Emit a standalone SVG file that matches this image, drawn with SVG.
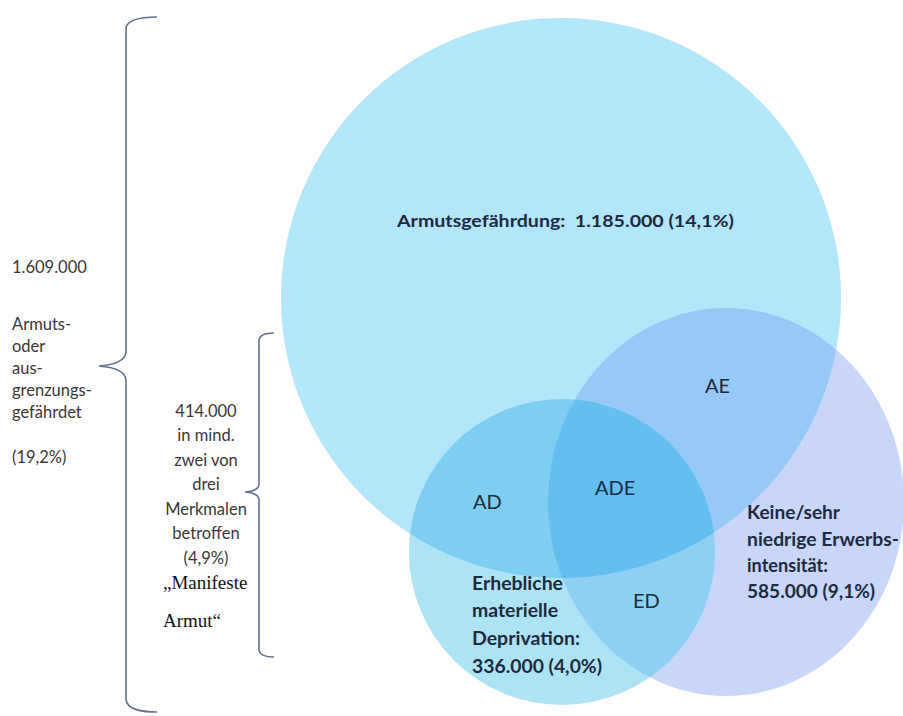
<svg xmlns="http://www.w3.org/2000/svg" width="903" height="716" viewBox="0 0 903 716">
<style>
.lbl{font-family:Lato,"Liberation Sans",sans-serif;fill:#1c2b3f}
.b{font-weight:bold}
.side{font-family:Lato,"Liberation Sans",sans-serif;font-size:16.5px;fill:#383838}
.serif{font-family:"Liberation Serif",serif;font-size:19px;fill:#111}
.brace{fill:none;stroke:#62708c;stroke-width:1.6}
</style>
<defs>
<circle id="cA" cx="561" cy="298" r="280"/>
<ellipse id="cE" cx="726" cy="502" rx="178" ry="194"/>
<circle id="cD" cx="562" cy="552" r="153"/>
<clipPath id="clipA"><use href="#cA"/></clipPath>
<clipPath id="clipE"><use href="#cE"/></clipPath>
</defs>
<rect width="903" height="716" fill="#ffffff"/>
<g id="venn">
<g id="setA"><use href="#cA" fill="#b3e5fb"/></g>
<g id="setE"><use href="#cE" fill="#c8d6f9"/></g>
<g id="setD"><use href="#cD" fill="#aee3f6"/></g>
<g id="AE" clip-path="url(#clipA)"><use href="#cE" fill="#98c9f6"/></g>
<g id="ADregion" clip-path="url(#clipA)"><use href="#cD" fill="#7dcef1"/></g>
<g id="EDregion" clip-path="url(#clipE)"><use href="#cD" fill="#8fcff2"/></g>
<g id="ADEregion" clip-path="url(#clipA)"><g clip-path="url(#clipE)"><use href="#cD" fill="#62bff0"/></g></g>
</g>
<g id="labels">
<text class="lbl b" x="397" y="227" font-size="17" textLength="337" lengthAdjust="spacingAndGlyphs">Armutsgefährdung:&#160; 1.185.000 (14,1%)</text>
<text class="lbl" x="705" y="393" font-size="20">AE</text>
<text class="lbl" x="595" y="495" font-size="20">ADE</text>
<text class="lbl" x="473" y="509" font-size="20">AD</text>
<text class="lbl" x="633" y="608" font-size="20">ED</text>
<g class="lbl b" font-size="18">
<text x="472" y="590" textLength="91" lengthAdjust="spacingAndGlyphs">Erhebliche</text>
<text x="472" y="617" textLength="86" lengthAdjust="spacingAndGlyphs">materielle</text>
<text x="472" y="645" textLength="108" lengthAdjust="spacingAndGlyphs">Deprivation:</text>
<text x="472" y="673" textLength="130" lengthAdjust="spacingAndGlyphs">336.000 (4,0%)</text>
</g>
<g class="lbl b" font-size="18">
<text x="747" y="519" textLength="93" lengthAdjust="spacingAndGlyphs">Keine/sehr</text>
<text x="747" y="546" textLength="152" lengthAdjust="spacingAndGlyphs">niedrige Erwerbs-</text>
<text x="747" y="572" textLength="81" lengthAdjust="spacingAndGlyphs">intensität:</text>
<text x="747" y="598" textLength="128" lengthAdjust="spacingAndGlyphs">585.000 (9,1%)</text>
</g>
</g>
<g id="connectors">
<path class="brace" d="M157,17 Q128,17 126,28 L126,352 Q125,364 99,366 Q125,368 126,380 L126,700 Q128,712 157,712"/>
<path class="brace" d="M274,333 Q260,333 259,340 L259,484 Q259,491 245,492 Q259,493 259,500 L259,650 Q260,657 274,657"/>
</g>
<g id="sidetext">
<g class="side">
<text x="12" y="273">1.609.000</text>
<text x="12" y="330">Armuts-</text>
<text x="12" y="352">oder</text>
<text x="12" y="374">aus-</text>
<text x="12" y="396">grenzungs-</text>
<text x="12" y="418">gefährdet</text>
<text x="12" y="463">(19,2%)</text>
</g>
<g class="side" text-anchor="middle">
<text x="206" y="417">414.000</text>
<text x="206" y="441">in mind.</text>
<text x="206" y="466">zwei von</text>
<text x="206" y="490">drei</text>
<text x="206" y="515">Merkmalen</text>
<text x="206" y="539">betroffen</text>
<text x="206" y="564">(4,9%)</text>
</g>
<text class="serif" x="163" y="589">„Manifeste</text>
<text class="serif" x="163" y="627">Armut“</text>
</g>
</svg>
